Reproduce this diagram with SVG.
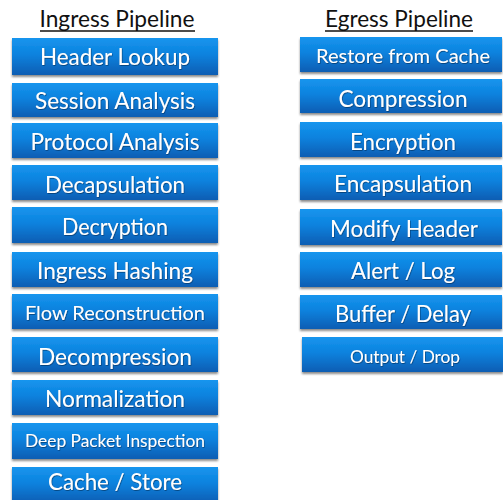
<svg xmlns="http://www.w3.org/2000/svg" width="503" height="500" viewBox="0 0 503 500">
<defs>
<linearGradient id="g" x1="0" y1="0" x2="0" y2="1">
<stop offset="0" stop-color="#1895ee"/>
<stop offset="0.45" stop-color="#0b82de"/>
<stop offset="1" stop-color="#0a5db3"/>
</linearGradient>
<filter id="sh" x="-5%" y="-10%" width="110%" height="140%">
<feDropShadow dx="0" dy="2" stdDeviation="1.3" flood-color="#000" flood-opacity="0.45"/>
</filter>
<filter id="ts" x="-5%" y="-20%" width="110%" height="150%">
<feDropShadow dx="0.6" dy="0.8" stdDeviation="0.5" flood-color="#002850" flood-opacity="0.7"/>
</filter>
</defs>
<style>
.box{fill:url(#g);filter:url(#sh)}
.t{font-family:Lato,"Liberation Sans",Arial,sans-serif;fill:#fff;text-anchor:middle;font-size:23px;filter:url(#ts)}
.s{font-size:20px}
.xs{font-size:17.5px}
.h{font-family:Lato,"Liberation Sans",Arial,sans-serif;fill:#111;font-size:23px;text-anchor:middle}
.ul{stroke:#111;stroke-width:1.5}
</style>
<g id="title-ingress"><text class="h" x="117" y="27" textLength="155" lengthAdjust="spacingAndGlyphs">Ingress Pipeline</text><line class="ul" x1="40" y1="31" x2="195" y2="31"/></g>
<g id="title-egress"><text class="h" x="399" y="27" textLength="148" lengthAdjust="spacingAndGlyphs">Egress Pipeline</text><line class="ul" x1="325" y1="31" x2="473" y2="31"/></g>
<g id="ingress-1"><rect class="box" x="12" y="38" width="206" height="37"/><text class="t" x="115" y="65" textLength="150" lengthAdjust="spacingAndGlyphs">Header Lookup</text></g>
<g id="ingress-2"><rect class="box" x="12" y="83" width="206" height="34"/><text class="t" x="115" y="109" textLength="160" lengthAdjust="spacingAndGlyphs">Session Analysis</text></g>
<g id="ingress-3"><rect class="box" x="12" y="123" width="206" height="35"/><text class="t" x="115" y="150" textLength="169" lengthAdjust="spacingAndGlyphs">Protocol Analysis</text></g>
<g id="ingress-4"><rect class="box" x="12" y="165" width="206" height="35"/><text class="t" x="115" y="193" textLength="140" lengthAdjust="spacingAndGlyphs">Decapsulation</text></g>
<g id="ingress-5"><rect class="box" x="12" y="207" width="206" height="36"/><text class="t" x="115" y="235" textLength="106" lengthAdjust="spacingAndGlyphs">Decryption</text></g>
<g id="ingress-6"><rect class="box" x="12" y="252" width="206" height="35"/><text class="t" x="115" y="279" textLength="156" lengthAdjust="spacingAndGlyphs">Ingress Hashing</text></g>
<g id="ingress-7"><rect class="box" x="12" y="294" width="206" height="35"/><text class="t s" x="115" y="320" textLength="180" lengthAdjust="spacingAndGlyphs">Flow Reconstruction</text></g>
<g id="ingress-8"><rect class="box" x="12" y="337" width="206" height="35"/><text class="t" x="115" y="365" textLength="154" lengthAdjust="spacingAndGlyphs">Decompression</text></g>
<g id="ingress-9"><rect class="box" x="12" y="380" width="206" height="35"/><text class="t" x="115" y="407" textLength="140" lengthAdjust="spacingAndGlyphs">Normalization</text></g>
<g id="ingress-10"><rect class="box" x="12" y="423" width="206" height="36"/><text class="t xs" x="115" y="447" textLength="180" lengthAdjust="spacingAndGlyphs">Deep Packet Inspection</text></g>
<g id="ingress-11"><rect class="box" x="12" y="467" width="206" height="36"/><text class="t" x="115" y="490" textLength="134" lengthAdjust="spacingAndGlyphs">Cache / Store</text></g>
<g id="egress-1"><rect class="box" x="300" y="37" width="202" height="35"/><text class="t s" x="403" y="63" textLength="174" lengthAdjust="spacingAndGlyphs">Restore from Cache</text></g>
<g id="egress-2"><rect class="box" x="300" y="79" width="202" height="34"/><text class="t" x="403" y="107" textLength="129" lengthAdjust="spacingAndGlyphs">Compression</text></g>
<g id="egress-3"><rect class="box" x="300" y="122" width="202" height="35"/><text class="t" x="403" y="150" textLength="106" lengthAdjust="spacingAndGlyphs">Encryption</text></g>
<g id="egress-4"><rect class="box" x="300" y="165" width="202" height="35"/><text class="t" x="403" y="192" textLength="138" lengthAdjust="spacingAndGlyphs">Encapsulation</text></g>
<g id="egress-5"><rect class="box" x="300" y="209" width="202" height="36"/><text class="t" x="404" y="237" textLength="148" lengthAdjust="spacingAndGlyphs">Modify Header</text></g>
<g id="egress-6"><rect class="box" x="300" y="252" width="202" height="35"/><text class="t" x="403" y="279" textLength="104" lengthAdjust="spacingAndGlyphs">Alert / Log</text></g>
<g id="egress-7"><rect class="box" x="300" y="295" width="202" height="34"/><text class="t" x="403" y="322" textLength="136" lengthAdjust="spacingAndGlyphs">Buffer / Delay</text></g>
<g id="egress-8"><rect class="box" x="302" y="337" width="201" height="35"/><text class="t xs" x="405" y="363" textLength="110" lengthAdjust="spacingAndGlyphs">Output / Drop</text></g>
<g id="connectors"/>
</svg>
